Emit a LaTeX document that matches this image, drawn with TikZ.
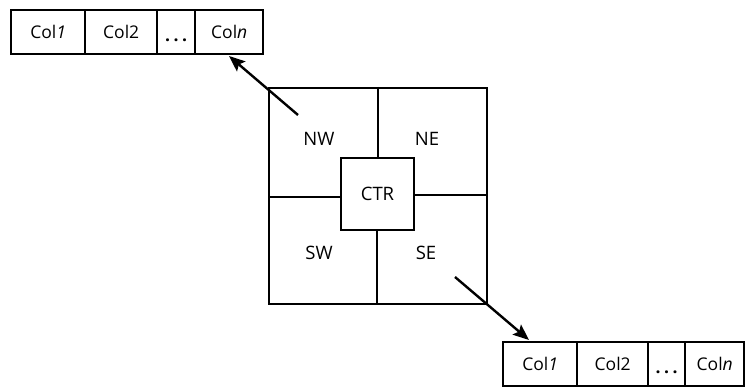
\documentclass[tikz,border=0pt]{standalone}
\usepackage{fontspec}
\setmainfont{Open Sans}
\usetikzlibrary{arrows.meta}
\newcommand{\mydots}{\raisebox{-3pt}[0pt][0pt]{\textbf{.\hspace{3.5pt}.\hspace{3.5pt}.}}}
\begin{document}
\begin{tikzpicture}[x=1pt,y=-1pt,
  lw/.style={line width=2.4pt},
  cell/.style={draw,lw,minimum height=44pt,inner sep=0pt,anchor=north west,font=\fontsize{17.5}{20}\selectfont},
  lbl/.style={font=\fontsize{18.5}{22}\selectfont,inner sep=0pt},
  arr/.style={lw,-{Stealth[length=16pt,width=13pt,inset=3pt]}}]
\useasboundingbox (0,0) rectangle (745,387);
% top table
\node[cell,minimum width=74pt] (ta) at (10,9) {Col\textit{1}};
\node[cell,minimum width=72pt] (tb) at (84,9) {Col2};
\node[cell,minimum width=38pt] (tc) at (156,9) {\vphantom{C}\mydots};
\node[cell,minimum width=68pt] (td) at (194,9) {Col\textit{n}};
% bottom table
\node[cell,minimum width=74pt] (ba) at (502,341) {Col\textit{1}};
\node[cell,minimum width=71pt] (bb) at (576,341) {Col2};
\node[cell,minimum width=37pt] (bc) at (647,341) {\vphantom{C}\mydots};
\node[cell,minimum width=59pt] (bd) at (684,341) {Col\textit{n}};
% square
\node[draw,lw,minimum width=218pt,minimum height=216pt,anchor=north west,inner sep=0pt] (sq) at (268,87) {};
\draw[lw] (378,87) -- (378,158);
\draw[lw] (377,230) -- (377,303);
\draw[lw] (268,197) -- (341,197);
\draw[lw] (414,195) -- (486,195);
\node[draw,lw,minimum width=73pt,minimum height=72pt,inner sep=0pt,fill=white,font=\fontsize{18.5}{22}\selectfont] (ctr) at (377.5,194) {CTR};
\node[lbl] (nw) at (319,139) {NW};
\node[lbl] (ne) at (427,139) {NE};
\node[lbl] (sw) at (319,253) {SW};
\node[lbl] (se) at (426,253) {SE};
% arrows
\coordinate (nwstart) at (298,115);
\coordinate (nwend) at (229,56);
\coordinate (sestart) at (455,277);
\coordinate (seend) at (529,340);
\draw[arr] (nwstart) -- (nwend);
\draw[arr] (sestart) -- (seend);
\end{tikzpicture}
\end{document}
